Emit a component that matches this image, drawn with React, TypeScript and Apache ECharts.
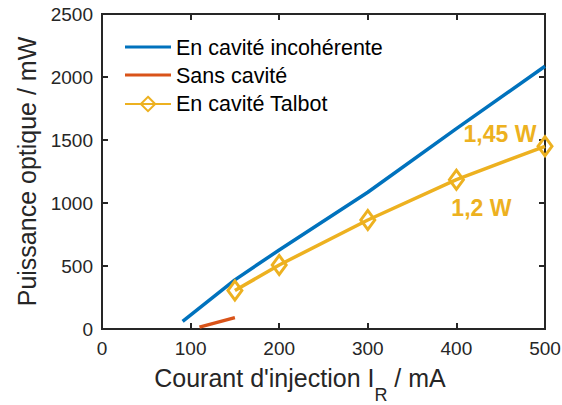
import React, { useEffect, useRef } from "react";
import * as echarts from "echarts";

const seriesNames = ["En cavité incohérente", "Sans cavité", "En cavité Talbot"];
const incoherent: [number, number][] = [
  [91, 60], [150, 390], [200, 627], [300, 1085], [400, 1590], [500, 2085],
];
const sansCavite: [number, number][] = [
  [110, 15], [150, 90],
];
const talbot: [number, number][] = [
  [150, 305], [200, 508], [300, 865], [400, 1185], [500, 1450],
];
const talbotLabels: Record<number, string> = { 500: "1,45 W", 400: "1,2 W" };
const xTicks = [0, 100, 200, 300, 400, 500];
const yTicks = [0, 500, 1000, 1500, 2000, 2500];

const FONT = "'Liberation Sans', Arial, Helvetica, sans-serif";
const AXIS = "#262626";
const BLUE = "#0072BD";
const ORANGE = "#D95319";
const YELLOW = "#EDB120";
const LINE_ICON = "path://M0,0L0.01,0M0,18L0.01,18M0,6.5L46,6.5L46,9.5L0,9.5Z";

export default function App() {
  const ref = useRef<HTMLDivElement>(null);
  useEffect(() => {
    if (!ref.current) return;
    const chart = echarts.init(ref.current, undefined, { renderer: "svg" });
    const axisCommon = {
      type: "value" as const,
      axisLine: { show: true, onZero: false, lineStyle: { color: AXIS, width: 2 } },
      axisTick: { show: true, inside: true, length: 6, lineStyle: { color: AXIS, width: 2 } },
      splitLine: { show: false },
    };
    chart.setOption({
      animation: false,
      textStyle: { fontFamily: FONT },
      grid: {
        left: 102, right: 17, top: 14, bottom: 76, containLabel: false,
        outerBoundsMode: "none",
        show: true, borderColor: AXIS, borderWidth: 2, backgroundColor: "transparent",
      },
      legend: {
        orient: "vertical",
        left: 124,
        top: 37,
        padding: 0,
        itemWidth: 46,
        itemHeight: 18,
        itemGap: 6,
        data: [
          { name: seriesNames[0], icon: LINE_ICON, itemStyle: { color: BLUE } },
          { name: seriesNames[1], icon: LINE_ICON, itemStyle: { color: ORANGE } },
          { name: seriesNames[2] },
        ],
        textStyle: { fontFamily: FONT, fontSize: 21.5, color: "#000", lineHeight: 22 },
      },
      xAxis: [
        {
          ...axisCommon,
          min: xTicks[0],
          max: xTicks[xTicks.length - 1],
          interval: 100,
          position: "bottom",
          axisLabel: { color: AXIS, fontSize: 19, margin: 10, fontFamily: FONT, formatter: (v: number) => String(v) },
          name: "{n|Courant d'injection I}{s|R}{n| / mA}",
          nameLocation: "middle",
          nameGap: 36,
          nameTextStyle: {
            padding: [0, 47, 0, 0],
            rich: {
              n: { fontSize: 25, lineHeight: 30, verticalAlign: "top", color: AXIS, fontFamily: FONT },
              s: { fontSize: 18, lineHeight: 18, verticalAlign: "top", color: AXIS, fontFamily: FONT, padding: [21, 0, 0, 0] },
            },
          },
        },
        {
          ...axisCommon,
          min: 0,
          max: 500,
          interval: 100,
          position: "top",
          axisLabel: { show: false },
        },
      ],
      yAxis: [
        {
          ...axisCommon,
          min: yTicks[0],
          max: yTicks[yTicks.length - 1],
          interval: 500,
          position: "left",
          axisLabel: { color: AXIS, fontSize: 19, margin: 9, fontFamily: FONT, formatter: (v: number) => String(v) },
          name: "Puissance optique / mW",
          nameLocation: "middle",
          nameGap: 58,
          nameTextStyle: { fontSize: 25, color: AXIS, fontFamily: FONT },
        },
        {
          ...axisCommon,
          min: 0,
          max: 2500,
          interval: 500,
          position: "right",
          axisLabel: { show: false },
        },
      ],
      series: [
        {
          name: seriesNames[0],
          type: "line",
          data: incoherent,
          symbol: "none",
          lineStyle: { color: BLUE, width: 3.5 },
          itemStyle: { color: BLUE },
          clip: false,
        },
        {
          name: seriesNames[1],
          type: "line",
          data: sansCavite,
          symbol: "none",
          lineStyle: { color: ORANGE, width: 3.5 },
          itemStyle: { color: ORANGE },
          clip: false,
        },
        {
          name: seriesNames[2],
          type: "line",
          data: talbot.map(([x, y]) => {
            const lbl = talbotLabels[x];
            if (!lbl) return [x, y];
            return {
              value: [x, y],
              label: {
                show: true,
                formatter: lbl,
                position: "inside",
                offset: x === 500 ? [-45, -12] : [25, 28],
                color: YELLOW,
                fontSize: 23,
                fontWeight: "bold",
                fontFamily: FONT,
              },
            };
          }),
          symbol: "diamond",
          symbolSize: [14, 19],
          showAllSymbol: true,
          lineStyle: { color: YELLOW, width: 3.5 },
          itemStyle: { color: "rgba(255,255,255,0)", borderColor: YELLOW, borderWidth: 3 },
          clip: false,
          z: 3,
        },
      ],
    });
    return () => chart.dispose();
  }, []);
  return <div ref={ref} style={{ width: 562, height: 405, position: "absolute", left: 0, top: 0 }} />;
}
